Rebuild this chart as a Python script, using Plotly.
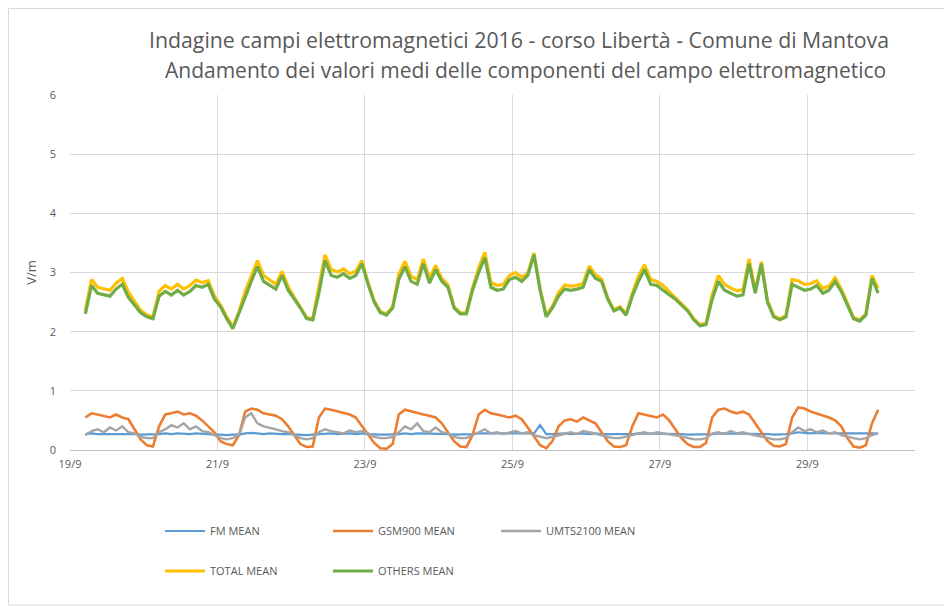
import pandas as pd
import plotly.graph_objects as go

# timestamps: every 2 hours starting 19/9/2016 05:00
times = pd.date_range("2016-09-19 05:00", periods=130, freq="2h")

fm_mean = [
    0.27, 0.28, 0.27, 0.27, 0.28, 0.27, 0.28, 0.27, 0.27, 0.26,
    0.26, 0.26, 0.27, 0.28, 0.27, 0.28, 0.27, 0.27, 0.28, 0.27,
    0.27, 0.26, 0.26, 0.25, 0.26, 0.26, 0.28, 0.29, 0.28, 0.27,
    0.28, 0.27, 0.27, 0.27, 0.26, 0.26, 0.25, 0.26, 0.27, 0.28,
    0.28, 0.27, 0.28, 0.28, 0.27, 0.28, 0.27, 0.26, 0.26, 0.26,
    0.26, 0.27, 0.28, 0.27, 0.28, 0.28, 0.27, 0.28, 0.27, 0.27,
    0.26, 0.26, 0.26, 0.27, 0.28, 0.28, 0.27, 0.28, 0.27, 0.28,
    0.28, 0.27, 0.27, 0.28, 0.42, 0.27, 0.27, 0.28, 0.28, 0.27,
    0.28, 0.28, 0.27, 0.28, 0.27, 0.27, 0.27, 0.26, 0.27, 0.27,
    0.28, 0.28, 0.27, 0.28, 0.27, 0.28, 0.27, 0.27, 0.26, 0.26,
    0.26, 0.26, 0.27, 0.28, 0.28, 0.27, 0.28, 0.28, 0.27, 0.28,
    0.27, 0.27, 0.26, 0.26, 0.27, 0.28, 0.30, 0.29, 0.28, 0.29,
    0.28, 0.28, 0.28, 0.28, 0.27, 0.27, 0.27, 0.28, 0.28, 0.28,
]

gsm900_mean = [
    0.55, 0.62, 0.60, 0.58, 0.55, 0.60, 0.55, 0.52, 0.35, 0.18,
    0.08, 0.06, 0.40, 0.60, 0.62, 0.65, 0.60, 0.62, 0.58, 0.50,
    0.40, 0.30, 0.15, 0.10, 0.08, 0.25, 0.65, 0.70, 0.68, 0.62,
    0.60, 0.58, 0.52, 0.40, 0.25, 0.10, 0.05, 0.06, 0.55, 0.70,
    0.68, 0.65, 0.62, 0.60, 0.55, 0.40, 0.25, 0.12, 0.03, 0.02,
    0.10, 0.60, 0.68, 0.65, 0.62, 0.60, 0.58, 0.55, 0.45, 0.30,
    0.15, 0.06, 0.05, 0.25, 0.60, 0.68, 0.62, 0.60, 0.58, 0.55,
    0.58, 0.52, 0.38, 0.22, 0.08, 0.03, 0.15, 0.40, 0.50, 0.52,
    0.48, 0.55, 0.50, 0.45, 0.30, 0.15, 0.06, 0.05, 0.08, 0.40,
    0.62, 0.60, 0.58, 0.55, 0.60, 0.50, 0.35, 0.20, 0.10, 0.05,
    0.05, 0.12, 0.55, 0.68, 0.70, 0.65, 0.62, 0.65, 0.60, 0.45,
    0.30, 0.15, 0.07, 0.06, 0.10, 0.55, 0.72, 0.70, 0.65, 0.62,
    0.58, 0.55, 0.50, 0.40, 0.20, 0.06, 0.04, 0.08, 0.45, 0.68,
]

umts2100_mean = [
    0.25, 0.32, 0.35, 0.30, 0.38, 0.33, 0.40, 0.30, 0.28, 0.22,
    0.20, 0.20, 0.30, 0.35, 0.42, 0.38, 0.45, 0.35, 0.40, 0.32,
    0.30, 0.25, 0.20, 0.18, 0.20, 0.25, 0.55, 0.62, 0.45, 0.40,
    0.38, 0.35, 0.32, 0.30, 0.25, 0.20, 0.18, 0.20, 0.30, 0.35,
    0.32, 0.30, 0.28, 0.33, 0.30, 0.32, 0.28, 0.22, 0.20, 0.20,
    0.22, 0.30, 0.40, 0.35, 0.45, 0.32, 0.30, 0.38, 0.30, 0.28,
    0.22, 0.20, 0.20, 0.25, 0.30, 0.35, 0.28, 0.30, 0.27, 0.30,
    0.32, 0.28, 0.30, 0.25, 0.22, 0.20, 0.22, 0.25, 0.28, 0.30,
    0.27, 0.32, 0.30, 0.28, 0.25, 0.22, 0.20, 0.20, 0.22, 0.25,
    0.28, 0.30, 0.27, 0.30, 0.28, 0.27, 0.25, 0.23, 0.20, 0.18,
    0.18, 0.20, 0.28, 0.30, 0.27, 0.32, 0.28, 0.30, 0.27, 0.25,
    0.23, 0.20, 0.18, 0.18, 0.20, 0.30, 0.38, 0.32, 0.35, 0.30,
    0.33, 0.28, 0.30, 0.25, 0.22, 0.20, 0.18, 0.20, 0.25, 0.28,
]

total_mean = [
    2.36, 2.88, 2.75, 2.72, 2.70, 2.82, 2.90, 2.67, 2.52, 2.36,
    2.28, 2.25, 2.68, 2.78, 2.72, 2.80, 2.72, 2.78, 2.87, 2.83,
    2.86, 2.60, 2.45, 2.25, 2.08, 2.34, 2.68, 2.95, 3.20, 2.95,
    2.87, 2.80, 3.02, 2.76, 2.58, 2.42, 2.24, 2.22, 2.73, 3.30,
    3.05, 3.01, 3.06, 2.98, 3.02, 3.20, 2.83, 2.52, 2.34, 2.30,
    2.42, 2.97, 3.19, 2.94, 2.88, 3.23, 2.90, 3.12, 2.90, 2.79,
    2.42, 2.32, 2.32, 2.74, 3.08, 3.34, 2.83, 2.78, 2.80, 2.95,
    3.00, 2.92, 2.99, 3.33, 2.72, 2.27, 2.43, 2.66, 2.79, 2.77,
    2.78, 2.82, 3.11, 2.96, 2.89, 2.57, 2.37, 2.42, 2.30, 2.65,
    2.94, 3.13, 2.88, 2.85, 2.78, 2.68, 2.58, 2.47, 2.37, 2.22,
    2.12, 2.14, 2.62, 2.95, 2.80, 2.74, 2.69, 2.71, 3.23, 2.70,
    3.18, 2.52, 2.27, 2.22, 2.27, 2.88, 2.86, 2.80, 2.81, 2.86,
    2.73, 2.77, 2.91, 2.72, 2.47, 2.24, 2.20, 2.30, 2.95, 2.74,
]

others_mean = [
    2.30, 2.78, 2.65, 2.62, 2.60, 2.72, 2.80, 2.58, 2.45, 2.32,
    2.25, 2.22, 2.60, 2.68, 2.62, 2.70, 2.62, 2.68, 2.78, 2.75,
    2.80, 2.55, 2.42, 2.22, 2.05, 2.30, 2.58, 2.85, 3.10, 2.85,
    2.78, 2.72, 2.95, 2.70, 2.55, 2.40, 2.22, 2.20, 2.65, 3.20,
    2.95, 2.92, 2.98, 2.90, 2.95, 3.15, 2.80, 2.50, 2.32, 2.28,
    2.40, 2.88, 3.10, 2.85, 2.80, 3.15, 2.82, 3.05, 2.85, 2.75,
    2.40, 2.30, 2.30, 2.70, 3.00, 3.25, 2.75, 2.70, 2.72, 2.88,
    2.92, 2.85, 2.95, 3.30, 2.70, 2.25, 2.40, 2.60, 2.72, 2.70,
    2.72, 2.75, 3.05, 2.90, 2.85, 2.55, 2.35, 2.40, 2.28, 2.60,
    2.85, 3.05, 2.80, 2.78, 2.70, 2.62, 2.55, 2.45, 2.35, 2.20,
    2.10, 2.12, 2.55, 2.85, 2.70, 2.65, 2.60, 2.62, 3.15, 2.65,
    3.15, 2.50, 2.25, 2.20, 2.25, 2.80, 2.75, 2.70, 2.72, 2.78,
    2.65, 2.70, 2.85, 2.68, 2.45, 2.22, 2.18, 2.28, 2.90, 2.65,
]

title_lines = [
    "Indagine campi elettromagnetici 2016 - corso Libertà - Comune di Mantova",
    "Andamento dei valori medi delle componenti del campo elettromagnetico",
]

series = [
    ("FM MEAN", fm_mean, "#5B9BD5", "legend", 2.2),
    ("GSM900 MEAN", gsm900_mean, "#ED7D31", "legend", 2.6),
    ("UMTS2100 MEAN", umts2100_mean, "#A5A5A5", "legend", 2.4),
    ("TOTAL MEAN", total_mean, "#FFC000", "legend2", 3.2),
    ("OTHERS MEAN", others_mean, "#70AD47", "legend2", 3.2),
]

fig = go.Figure()
for name, vals, color, leg, w in series:
    fig.add_trace(go.Scatter(
        x=times, y=vals, mode="lines", name=name,
        line=dict(color=color, width=w), legend=leg,
    ))

font_family = "Open Sans, Liberation Sans, sans-serif"
txt = "#595959"

# the page adds an 8px body margin, so figure coordinates = page coordinates - 8
W, H = 952, 606
PL, PR, PT, PB = 62, 907, 87, 442  # plot area in figure pixels
pw, ph = PR - PL, PB - PT

fig.update_layout(
    width=W, height=H,
    margin=dict(l=PL, r=W - PR, t=PT, b=H - PB, autoexpand=False),
    paper_bgcolor="white", plot_bgcolor="white",
    font=dict(family=font_family, color=txt, size=11),
    showlegend=True,
    legend=dict(orientation="h", xref="container", yref="container",
                x=152 / W, y=1 - 523 / H, xanchor="left", yanchor="middle",
                entrywidth=113, itemwidth=40,
                font=dict(size=11, color=txt), bgcolor="rgba(0,0,0,0)"),
    legend2=dict(orientation="h", xref="container", yref="container",
                 x=152 / W, y=1 - 563 / H, xanchor="left", yanchor="middle",
                 entrywidth=113, itemwidth=40,
                 font=dict(size=11, color=txt), bgcolor="rgba(0,0,0,0)"),
    xaxis=dict(
        type="date",
        range=["2016-09-19 00:00", "2016-09-30 11:00"],
        tick0="2016-09-19", dtick=2 * 86400000,
        tickformat="%-d/%-m",
        showgrid=True, gridcolor="#D9D9D9", gridwidth=1,
        showline=True, linecolor="#BFBFBF", linewidth=1,
        zeroline=False, ticks="", ticklabelstandoff=4,
        tickfont=dict(size=11, color=txt),
    ),
    yaxis=dict(
        range=[0, 6], dtick=1,
        showgrid=True, gridcolor="#D9D9D9", gridwidth=1,
        zeroline=False, showline=False, ticks="", ticklabelstandoff=13,
        tickfont=dict(size=11, color=txt),
        title=dict(text="V/m", font=dict(size=13, color=txt), standoff=10),
    ),
    annotations=[
        dict(text=title_lines[0], xref="paper", yref="paper", x=(511 - PL) / pw,
             y=(PB - 32) / ph, showarrow=False, xanchor="center", yanchor="middle",
             font=dict(size=21.3, color=txt, family=font_family)),
        dict(text=title_lines[1], xref="paper", yref="paper", x=(517 - PL) / pw,
             y=(PB - 62) / ph, showarrow=False, xanchor="center", yanchor="middle",
             font=dict(size=21, color=txt, family=font_family)),
    ],
    shapes=[
        dict(type="rect", xref="paper", yref="paper",
             x0=(0.5 - PL) / pw, x1=(939 - PL) / pw, y0=(PB - 597) / ph, y1=(PB - 0.5) / ph,
             line=dict(color="#D9D9D9", width=1), fillcolor="rgba(0,0,0,0)", layer="below"),
    ],
)

fig.write_html("out.html")
